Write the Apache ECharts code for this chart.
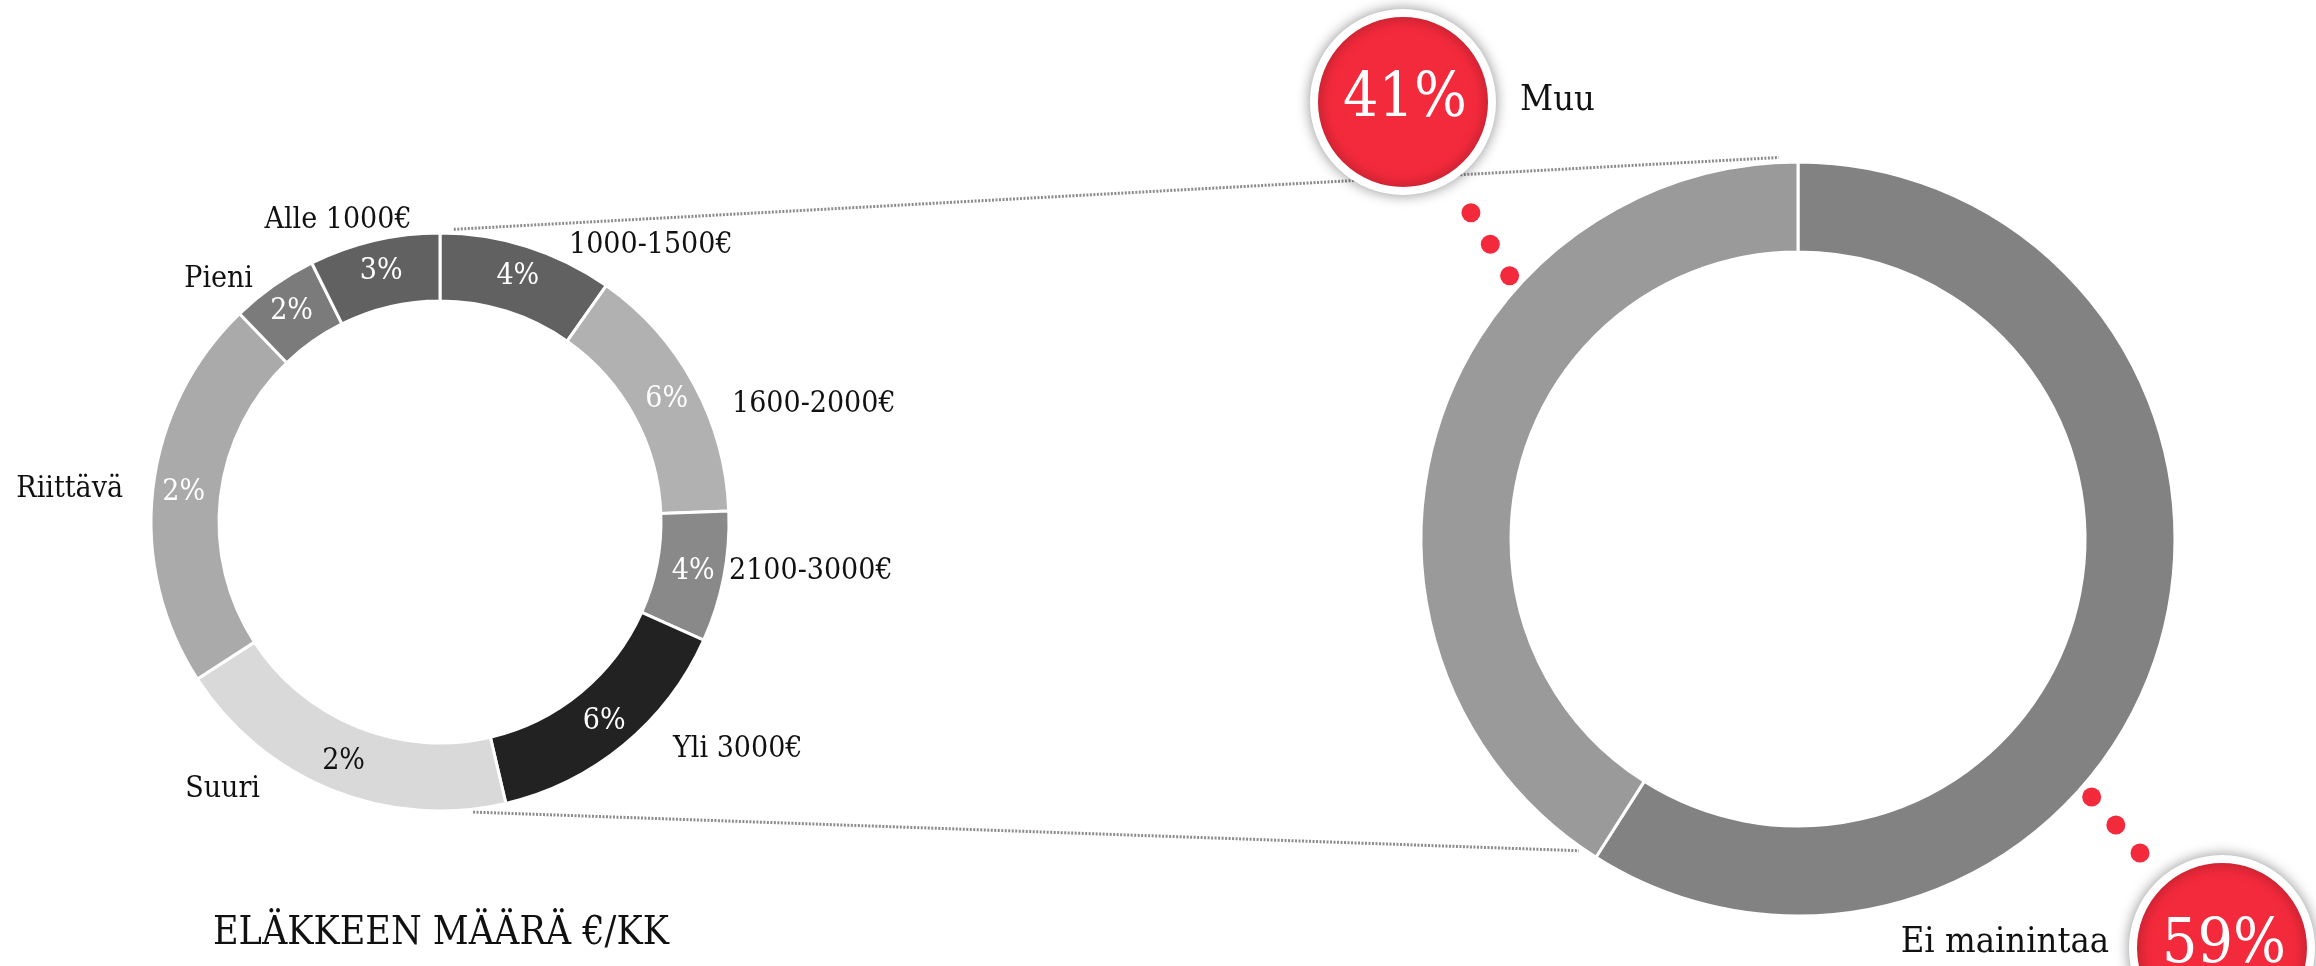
<!DOCTYPE html>
<html>
<head>
<meta charset="utf-8">
<script src="https://cdn.jsdelivr.net/npm/echarts@6/dist/echarts.min.js"></script>
<style>
html,body{margin:0;padding:0;background:#ffffff;}
#chart{width:2316px;height:966px;}
</style>
</head>
<body>
<div id="chart"></div>
<script>
// ---------- DATA ----------
const incomeCategories = ['1000-1500€', '1600-2000€', '2100-3000€', 'Yli 3000€', 'Suuri', 'Riittävä', 'Pieni', 'Alle 1000€'];
const incomeValues = [4, 6, 3, 6, 8, 9, 2, 3];
const incomeLabelTexts = ['4%', '6%', '4%', '6%', '2%', '2%', '2%', '3%'];
const mentionCategories = ['Ei mainintaa', 'Muu'];
const mentionValues = [59, 41];
const chartTitle = 'ELÄKKEEN MÄÄRÄ €/KK';

// ---------- STYLE / LAYOUT ----------
const FONT = "'DejaVu Serif Condensed', 'DejaVu Serif', serif";
const incomeColors = ['#616161', '#b1b1b1', '#898989', '#222222', '#d9d9d9', '#aaaaaa', '#7b7b7b', '#616161'];
const incomeLabelColors = ['#fff', '#fff', '#fff', '#fff', '#111', '#fff', '#fff', '#fff'];
const mentionColors = ['#828282', '#9a9a9a'];
const RED = '#f32a3c';
const LEFT = { cx: 440, cy: 522, r0: 221, r: 289 };
const RIGHT = { cx: 1798, cy: 539, r0: 287, r: 377 };
// name label offsets relative to the left donut centre: [dx, dy, align]
const nameLabelLayout = [
  [129, -277, 'left'], [292, -118, 'left'], [289, 49, 'left'], [233, 227, 'left'],
  [-180, 267, 'right'], [-317, -33, 'right'], [-187, -243, 'right'], [-102, -302, 'center']
];
// callout badges for the right donut
const badgeLayout = [
  { index: 1, cx: 1403, cy: 102, anchorDeg: 311.8, side: 'right' },
  { index: 0, cx: 2222, cy: 948, anchorDeg: 131, side: 'left' }
];
const dotDistances = [14, 51, 88];

function polar(c, deg, rad) {
  const a = deg * Math.PI / 180;
  return [c.cx + rad * Math.sin(a), c.cy - rad * Math.cos(a)];
}

const chart = echarts.init(document.getElementById('chart'), null, { renderer: 'canvas' });

// ---------- decorative graphics ----------
const graphics = [];
const total = mentionValues.reduce((a, b) => a + b, 0);
const splitDeg = 360 * mentionValues[0] / total;

// dotted connectors
const up1 = polar(LEFT, 2.7, LEFT.r + 4), up2 = polar(RIGHT, -2.9, RIGHT.r + 5);
const lo1 = polar(LEFT, 173.5, LEFT.r + 3), lo2 = polar(RIGHT, splitDeg + 2.7, RIGHT.r + 4);
[[up1, up2], [lo1, lo2]].forEach(([p, q]) => {
  graphics.push({
    type: 'line', z: 1, silent: true,
    shape: { x1: p[0], y1: p[1], x2: q[0], y2: q[1] },
    style: { stroke: '#8c8c8c', lineWidth: 3, lineDash: [2, 1.5] }
  });
});

// badges + dots
badgeLayout.forEach(b => {
  const anchor = polar(RIGHT, b.anchorDeg, RIGHT.r);
  const dx = b.cx - anchor[0], dy = b.cy - anchor[1];
  const len = Math.sqrt(dx * dx + dy * dy);
  dotDistances.forEach(d => {
    graphics.push({
      type: 'circle', z: 50, silent: true,
      shape: { cx: anchor[0] + dx / len * d, cy: anchor[1] + dy / len * d, r: 9.5 },
      style: { fill: RED }
    });
  });
  graphics.push({
    type: 'circle', z: 60, silent: true,
    shape: { cx: b.cx, cy: b.cy, r: 89 },
    style: { fill: RED, stroke: '#ffffff', lineWidth: 8, shadowBlur: 14, shadowColor: 'rgba(0,0,0,0.35)' }
  });
  graphics.push({
    type: 'text', z: 61, silent: true,
    x: b.cx + 2, y: b.cy - 2,
    style: {
      text: mentionValues[b.index] + '%', fill: '#ffffff',
      fontFamily: FONT, fontSize: 62, align: 'center', verticalAlign: 'middle',
      textAlign: 'center', textVerticalAlign: 'middle'
    }
  });
  const nx = b.side === 'right' ? b.cx + 93 + 24 : b.cx - 93 - 20;
  graphics.push({
    type: 'text', z: 61, silent: true,
    x: nx, y: b.cy - (b.side === 'right' ? 1 : 5),
    style: {
      text: mentionCategories[b.index], fill: '#111111',
      fontFamily: FONT, fontSize: 36,
      align: b.side === 'right' ? 'left' : 'right', verticalAlign: 'middle',
      textAlign: b.side === 'right' ? 'left' : 'right', textVerticalAlign: 'middle'
    }
  });
});

// title
graphics.push({
  type: 'text', z: 10, silent: true,
  x: 213, y: 934,
  style: {
    text: chartTitle, fill: '#111111', fontFamily: FONT, fontSize: 39,
    align: 'left', verticalAlign: 'middle', textAlign: 'left', textVerticalAlign: 'middle'
  }
});

const option = {
  animation: false,
  backgroundColor: '#ffffff',
  series: [
    {
      type: 'pie', silent: true,
      center: [LEFT.cx, LEFT.cy], radius: [LEFT.r0, LEFT.r],
      startAngle: 90, clockwise: true, avoidLabelOverlap: false,
      itemStyle: { borderColor: '#ffffff', borderWidth: 3 },
      label: {
        show: true, position: 'inside',
        formatter: p => incomeLabelTexts[p.dataIndex],
        fontFamily: FONT, fontSize: 30, color: '#ffffff'
      },
      labelLine: { show: false },
      emphasis: { disabled: true },
      data: incomeCategories.map((n, i) => ({
        name: n, value: incomeValues[i],
        itemStyle: { color: incomeColors[i] },
        label: { color: incomeLabelColors[i] }
      }))
    },
    {
      type: 'pie', silent: true, z: 3,
      center: [LEFT.cx, LEFT.cy], radius: [LEFT.r0, LEFT.r],
      startAngle: 90, clockwise: true, avoidLabelOverlap: false,
      itemStyle: { color: 'rgba(0,0,0,0)', borderWidth: 0 },
      label: {
        show: true, position: 'outside', formatter: '{b}',
        fontFamily: FONT, fontSize: 30, color: '#111111'
      },
      labelLine: { show: false },
      labelLayout: p => {
        const o = nameLabelLayout[p.dataIndex];
        return { x: LEFT.cx + o[0], y: LEFT.cy + o[1], align: o[2], verticalAlign: 'middle' };
      },
      emphasis: { disabled: true },
      data: incomeCategories.map((n, i) => ({ name: n, value: incomeValues[i] }))
    },
    {
      type: 'pie', silent: true,
      center: [RIGHT.cx, RIGHT.cy], radius: [RIGHT.r0, RIGHT.r],
      startAngle: 90, clockwise: true,
      itemStyle: { borderColor: '#ffffff', borderWidth: 3 },
      label: { show: false }, labelLine: { show: false },
      emphasis: { disabled: true },
      data: mentionCategories.map((n, i) => ({
        name: n, value: mentionValues[i], itemStyle: { color: mentionColors[i] }
      }))
    }
  ],
  graphic: { elements: graphics }
};
chart.setOption(option);
</script>
</body>
</html>
